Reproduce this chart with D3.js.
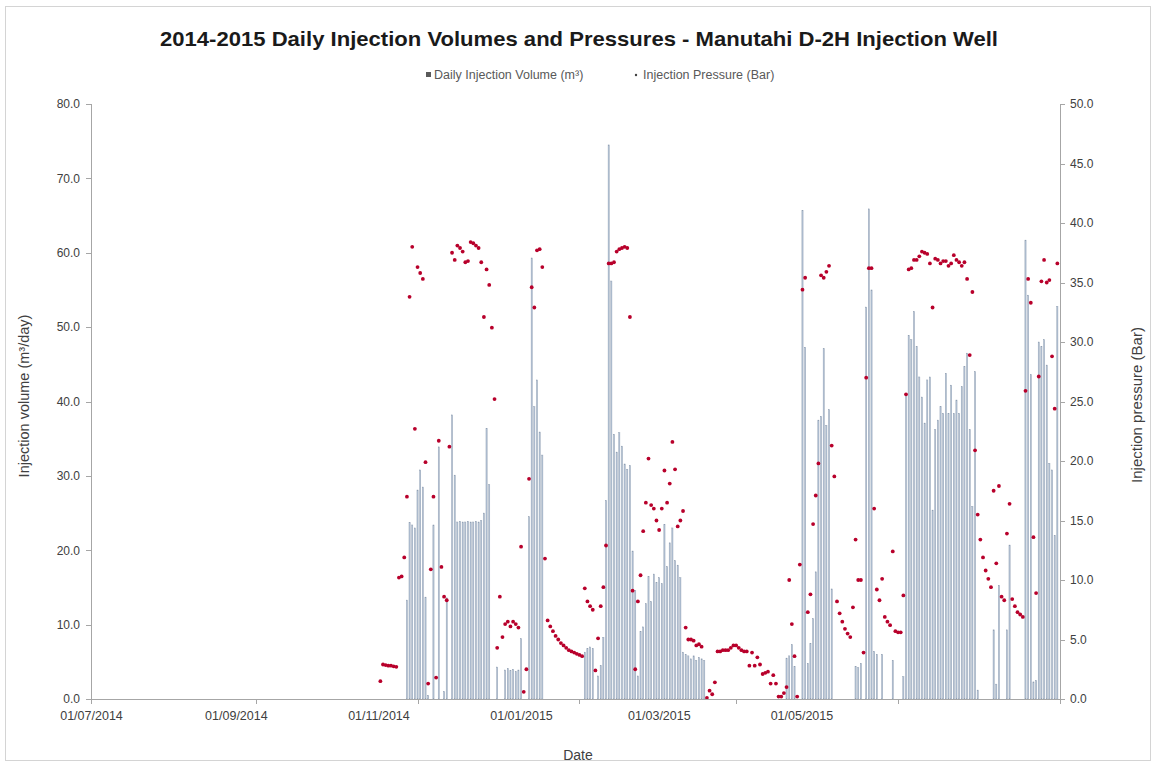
<!DOCTYPE html>
<html lang="en">
<head>
    <meta charset="UTF-8">
    <title>Manutahi D-2H Injection Well</title>
    <script src="https://cdnjs.cloudflare.com/ajax/libs/d3/7.8.5/d3.min.js"></script>
    <style>
        body {
            margin: 0;
            background: #fff;
        }
        svg {
            display: block;
            font-family: "Liberation Sans", Arial, sans-serif;
        }
        .axis path,
        .axis line {
            fill: none;
            stroke: #a6a6a6;
            shape-rendering: crispEdges;
        }
        .axis text {
            font-size: 12px;
            fill: #404040;
        }
        .bar {
            fill: #b3c2d5;
            stroke: #8a99ad;
            stroke-width: 0.4;
        }
        .dot {
            fill: #b8002b;
        }
    </style>
</head>
<body>
<script>
    // daily records start on 17/10/2014, one value per day
    var startDate = Date.UTC(2014, 9, 17);

    // Daily injection volume (m3/day)
    var volume = [
        0, 0, 0, 0, 0, 0, 0, 0, 0, 0,
        0, 13.3, 23.7, 23.4, 23.0, 28.1, 30.8, 28.5, 13.7, 0.5,
        0, 23.4, 0, 33.9, 0, 1.0, 13.6, 0, 38.2, 30.1,
        23.8, 23.9, 23.8, 23.8, 23.9, 23.8, 23.8, 23.9, 23.8, 24.0,
        25.0, 36.4, 28.8, 0, 0, 4.3, 0, 0, 3.9, 4.1,
        3.8, 4.0, 3.7, 3.9, 8.1, 0, 0, 24.5, 59.3, 39.3,
        42.9, 35.9, 32.8, 0, 0, 0, 0, 0, 0, 0,
        0, 0, 0, 0, 0, 0, 0, 0, 6.3, 6.8,
        7.0, 6.8, 0, 3.1, 4.5, 8.3, 26.7, 74.5, 56.2, 35.6,
        33.2, 35.8, 34.0, 31.6, 30.9, 31.4, 19.9, 14.6, 3.1, 9.1,
        9.7, 12.8, 16.5, 13.1, 16.8, 15.7, 16.3, 15.5, 23.5, 17.8,
        21.0, 23.0, 18.6, 18.0, 16.3, 6.3, 6.0, 5.8, 5.4, 5.8,
        5.2, 5.6, 5.4, 5.2, 0, 0, 0, 0, 0, 0,
        0, 0, 0, 0, 0, 0, 0, 0, 0, 0,
        0, 0, 0, 0, 0, 0, 0, 0, 0, 0,
        0, 0, 0, 0, 5.5, 5.8, 7.3, 4.4, 0, 0,
        65.7, 47.3, 4.8, 7.5, 10.8, 17.1, 37.5, 38.0, 47.1, 36.8,
        38.9, 14.8, 0, 0, 0, 0, 0, 0, 0, 0,
        4.4, 4.2, 4.8, 0, 52.7, 65.9, 55.0, 6.4, 6.0, 0,
        6.0, 0, 0, 0, 5.2, 0, 0, 0, 3.0, 41.1,
        48.9, 48.3, 52.1, 47.4, 43.3, 40.6, 37.1, 42.9, 43.3, 25.4,
        36.2, 37.5, 39.3, 38.4, 43.8, 38.4, 42.2, 38.4, 40.2, 38.4,
        42.0, 44.7, 46.5, 36.2, 25.9, 44.0, 1.2, 0, 0, 0,
        0, 0, 9.3, 2.0, 15.3, 0, 0, 9.3, 20.7, 0,
        0, 0, 0, 0, 61.7, 54.3, 43.6, 2.3, 2.5, 48.0,
        47.4, 48.3, 44.9, 31.7, 30.8, 22.0, 52.8
    ];

    // Injection pressure (Bar), null = no reading
    var pressure = [
        null, 1.5, 2.9, 2.85, 2.8, 2.8, 2.75, 2.7, 10.2, 10.3,
        11.9, 17.0, 33.8, 38.0, 22.7, 36.3, 35.8, 35.3, 19.9, 1.3,
        10.9, 17.0, 1.8, 21.7, 11.1, 8.6, 8.3, 21.2, 37.5, 36.9,
        38.1, 37.9, 37.6, 36.7, 36.8, 38.4, 38.3, 38.1, 37.9, 36.7,
        32.1, 36.1, 34.8, 31.2, 25.2, 4.3, 8.6, 5.2, 6.3, 6.5,
        6.1, 6.5, 6.3, 6.0, 12.8, 0.6, 2.5, 18.5, 34.6, 32.9,
        37.7, 37.8, 36.3, 11.8, 6.6, 6.1, 5.7, 5.3, 5.0, 4.7,
        4.5, 4.3, 4.1, 4.0, 3.9, 3.8, 3.7, 3.6, 9.3, 8.2,
        7.8, 7.5, 2.4, 5.1, 7.8, 9.4, 12.9, 36.6, 36.6, 36.7,
        37.6, 37.8, 37.9, 38.0, 37.9, 32.1, 9.1, 2.5, 8.2, 10.4,
        14.1, 16.5, 20.2, 16.3, 16.0, 15.0, 14.2, 16.0, 19.2, 16.5,
        18.1, 21.6, 19.3, 14.5, 15.0, 15.8, 6.0, 5.0, 5.0, 4.9,
        4.5, 4.6, 4.4, null, 0.1, 0.7, 0.4, 1.4, 4.0, 4.0,
        4.1, 4.1, 4.1, 4.3, 4.5, 4.5, 4.3, 4.1, 4.0, 4.0,
        2.8, 3.9, 2.8, 3.5, 2.9, 2.1, 2.2, 2.3, 1.3, 2.0,
        1.3, 0.2, 0.2, 0.5, 1.0, 10.0, 6.3, 3.6, 0.2, 11.3,
        34.4, 35.4, 7.3, 8.8, 14.7, 17.1, 19.8, 35.6, 35.4, 35.9,
        36.4, 21.3, 18.7, 8.2, 7.2, 6.5, 5.9, 5.5, 5.2, 7.7,
        13.4, 10.0, 10.0, 3.9, 27.0, 36.2, 36.2, 16.0, 9.2, 8.3,
        10.1, 6.9, 6.5, 6.2, 12.4, 5.7, 5.6, 5.6, 8.7, 25.6,
        36.1, 36.2, 36.9, 36.9, 37.2, 37.6, 37.5, 37.4, 36.6, 32.9,
        37.0, 36.9, 36.6, 36.8, 36.8, 36.4, 36.6, 37.3, 36.9, 36.7,
        36.4, 36.7, 35.3, 28.9, 34.2, 20.9, 15.5, 13.4, 11.9, 10.8,
        10.1, 9.4, 17.5, 11.4, 17.9, 8.6, 8.3, 13.9, 16.4, 8.4,
        7.8, 7.3, 7.1, 6.9, 25.9, 35.3, 33.3, 13.6, 8.9, 27.1,
        35.1, 36.9, 35.0, 35.2, 28.8, 24.4, 36.6
    ];

    var volumeTicks = [0, 10, 20, 30, 40, 50, 60, 70, 80];
    var pressureTicks = [0, 5, 10, 15, 20, 25, 30, 35, 40, 45, 50];
    var tickDates = ["2014-07-01", "2014-09-01", "2014-11-01", "2015-01-01", "2015-03-01", "2015-05-01", "2015-07-01"];
    var labelDates = ["2014-07-01", "2014-09-01", "2014-11-01", "2015-01-01", "2015-03-01", "2015-05-01"];

    var parseDate = d3.utcParse("%Y-%m-%d");

    var data = volume.map(function (v, i) {
        return {date: d3.utcDay.offset(new Date(startDate), i), vol: v, pres: pressure[i]};
    });

    var svgW = 1156, svgH = 766;
    var margin = {top: 104, right: 96, bottom: 67, left: 91},
            width = svgW - margin.left - margin.right,
            height = svgH - margin.top - margin.bottom;

    var x = d3.scaleUtc()
            .domain([parseDate("2014-07-01"), parseDate("2015-07-01")])
            .range([0, width]);

    // the date labels of the original sit on a tighter spacing than the tick marks
    var xLabel = d3.scaleUtc()
            .domain(x.domain())
            .range([0, 853]);

    var yVol = d3.scaleLinear().domain([0, 80]).range([height, 0]);
    var yPres = d3.scaleLinear().domain([0, 50]).range([height, 0]);

    var svg = d3.select("body").append("svg")
            .attr("width", svgW)
            .attr("height", svgH);

    svg.append("rect")
            .attr("x", 5.5)
            .attr("y", 6.5)
            .attr("width", svgW - 11)
            .attr("height", svgH - 12)
            .attr("fill", "none")
            .attr("stroke", "#d4d4d4");

    svg.append("text")
            .attr("x", 579)
            .attr("y", 46)
            .attr("text-anchor", "middle")
            .attr("textLength", 838)
            .attr("lengthAdjust", "spacingAndGlyphs")
            .style("font-size", "21px")
            .style("font-weight", "bold")
            .style("fill", "#1a1a1a")
            .text("2014-2015 Daily Injection Volumes and Pressures - Manutahi D-2H Injection Well");

    // legend
    var legend = svg.append("g").attr("transform", "translate(0,75)");
    legend.append("rect")
            .attr("x", 426).attr("y", -3)
            .attr("width", 5).attr("height", 5)
            .attr("fill", "#5a5a5a");
    legend.append("text")
            .attr("x", 434).attr("y", 4)
            .style("font-size", "12.5px").style("fill", "#595959")
            .html("Daily Injection Volume (m&#179;)");
    legend.append("circle")
            .attr("cx", 636).attr("cy", 0).attr("r", 1.2)
            .attr("fill", "#404040");
    legend.append("text")
            .attr("x", 643).attr("y", 4)
            .style("font-size", "12.5px").style("fill", "#595959")
            .text("Injection Pressure (Bar)");

    var g = svg.append("g")
            .attr("transform", "translate(" + margin.left + "," + margin.top + ")");

    var bw = 1.2;
    g.selectAll(".bar")
            .data(data.filter(function (d) { return d.vol > 0; }))
            .enter().append("rect")
            .attr("class", "bar")
            .attr("x", function (d) { return x(d.date) - bw / 2; })
            .attr("y", function (d) { return yVol(d.vol); })
            .attr("width", bw)
            .attr("height", function (d) { return height - yVol(d.vol); });

    g.selectAll(".dot")
            .data(data.filter(function (d) { return d.pres != null; }))
            .enter().append("circle")
            .attr("class", "dot")
            .attr("cx", function (d) { return x(d.date); })
            .attr("cy", function (d) { return yPres(d.pres); })
            .attr("r", 1.9);

    // axes
    g.append("g")
            .attr("class", "axis")
            .call(d3.axisLeft(yVol).tickValues(volumeTicks).tickFormat(d3.format(".1f")).tickSize(5).tickPadding(6));

    g.append("g")
            .attr("class", "axis")
            .attr("transform", "translate(" + width + ",0)")
            .call(d3.axisRight(yPres).tickValues(pressureTicks).tickFormat(d3.format(".1f")).tickSize(5).tickPadding(5));

    g.append("g")
            .attr("class", "axis")
            .attr("transform", "translate(0," + height + ")")
            .call(d3.axisBottom(x).tickValues(tickDates.map(parseDate)).tickFormat("").tickSize(5));

    var lab = g.append("g")
            .attr("class", "axis")
            .attr("transform", "translate(0," + height + ")")
            .call(d3.axisBottom(xLabel).tickValues(labelDates.map(parseDate))
                    .tickFormat(d3.utcFormat("%d/%m/%Y")).tickSize(0).tickPadding(12));
    lab.select(".domain").remove();
    lab.selectAll("text").style("font-size", "12.5px");

    // axis titles
    svg.append("text")
            .attr("transform", "translate(29,396) rotate(-90)")
            .attr("text-anchor", "middle")
            .style("font-size", "14.5px").style("fill", "#404040")
            .html("Injection volume (m&#179;/day)");

    svg.append("text")
            .attr("transform", "translate(1142,405) rotate(-90)")
            .attr("text-anchor", "middle")
            .style("font-size", "15px").style("fill", "#404040")
            .text("Injection pressure (Bar)");

    svg.append("text")
            .attr("x", 578)
            .attr("y", 760)
            .attr("text-anchor", "middle")
            .style("font-size", "14px").style("fill", "#404040")
            .text("Date");
</script>
</body>
</html>
